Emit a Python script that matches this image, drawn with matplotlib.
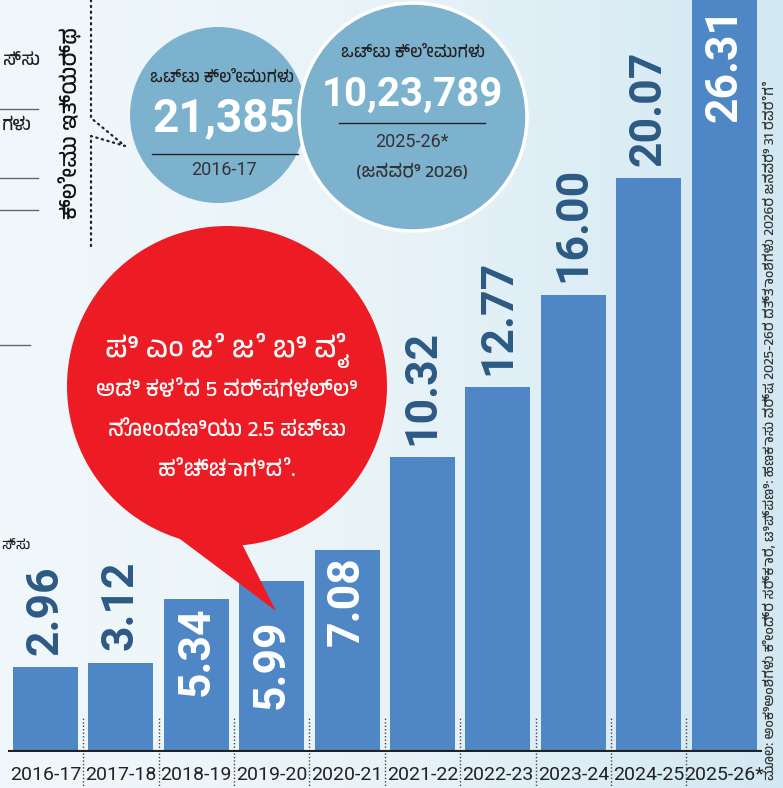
import numpy as np
import matplotlib
matplotlib.use('Agg')
import matplotlib.pyplot as plt
from matplotlib import font_manager
from matplotlib.patches import Circle, Polygon

years = ['2016-17', '2017-18', '2018-19', '2019-20', '2020-21',
         '2021-22', '2022-23', '2023-24', '2024-25', '2025-26*']
claims_lakh = [2.96, 3.12, 5.34, 5.99, 7.08, 10.32, 12.77, 16.00, 20.07, 26.31]
value_labels = ['2.96', '3.12', '5.34', '5.99', '7.08',
                '10.32', '12.77', '16.00', '20.07', '26.31']
# labels written inside the bar (white) rather than above it
inside_idx = [2, 3, 4, 9]

claims_label = 'ಒಟ್ಟು ಕ್ಲೇಮುಗಳು'
first_total, first_year = '21,385', '2016-17'
last_total, last_year, last_note = '10,23,789', '2025-26*', '(ಜನವರಿ 2026)'
side_title = 'ಕ್ಲೇಮು ಇತ್ಯರ್ಥ'
bubble_lines = ['ಪಿ ಎಂ ಜೆ ಜೆ ಬಿ ವೈ', 'ಅಡಿ ಕಳೆದ 5 ವರ್ಷಗಳಲ್ಲಿ',
                'ನೋಂದಣಿಯು 2.5 ಪಟ್ಟು', 'ಹೆಚ್ಚಾಗಿದೆ.']
source_note = ('ಮೂಲ: ಅಂಕಿಅಂಶಗಳು ಕೇಂದ್ರ ಸರ್ಕಾರ, ಟಿಪ್ಪಣಿ: ಹಣಕಾಸು ವರ್ಷ '
               '2025-26ರ ದತ್ತಾಂಶಗಳು 2026ರ ಜನವರಿ 31 ರವರೆಗೆ')


def pick(names, default='DejaVu Sans'):
    for n in names:
        try:
            font_manager.findfont(n, fallback_to_default=False)
            return n
        except Exception:
            pass
    return default


kn = [f.name for f in font_manager.fontManager.ttflist if 'Kannada' in f.name]
base = pick(['Roboto', 'Noto Sans'])
kfont = [kn[0], base] if kn else [base, 'DejaVu Sans']

BAR = '#4f87c6'
DARK = '#2c5a84'
RED = '#ed1c24'
CIRC = '#7db2cf'

W, H = 783, 788
fig = plt.figure(figsize=(W / 100, H / 100), dpi=100)

# background gradient
bg = fig.add_axes([0, 0, 1, 1], zorder=0)
grad = np.tile(np.linspace(0, 1, 200), (50, 1))
cmap = matplotlib.colors.LinearSegmentedColormap.from_list('bg', ['#f1f8fb', '#e8f3f8', '#d2e8f2'])
bg.imshow(grad, extent=[0, 1, 0, 1], aspect='auto', cmap=cmap)
bg.axis('off')

# bars
ax = fig.add_axes([7.8 / W, 36 / H, 754 / W, 752 / H], zorder=1)
ax.patch.set_alpha(0)
x = np.arange(len(years))
ax.bar(x, claims_lakh, width=0.86, color=BAR, zorder=2)
ax.set_xlim(-0.5, len(years) - 0.5)
ax.set_ylim(0, 26.31)
for s in ax.spines.values():
    s.set_visible(False)
ax.set_yticks([])
ax.set_xticks(x)
ax.set_xticklabels(years, fontsize=14, color='#222222', family=base)
ax.tick_params(axis='x', length=0, pad=10)
ax.axhline(0, color='#222222', lw=3, zorder=3)
ax.vlines(x[:-1] + 0.5, -1.3, 1.22, colors='#444444', linestyles=(0, (1, 1.5)), lw=1,
          clip_on=False, zorder=1)

for i, (v, lab) in enumerate(zip(claims_lakh, value_labels)):
    if i in inside_idx:
        off = -28 if lab == '5.99' else -5
        ax.annotate(lab, (i, v), xytext=(0, off), textcoords='offset points', rotation=90,
                    ha='center', va='top', fontsize=32, fontweight='bold', color='white',
                    family=base, zorder=4)
    else:
        ax.annotate(lab, (i, v), xytext=(0, 9), textcoords='offset points', rotation=90,
                    ha='center', va='bottom', fontsize=32, fontweight='bold', color=DARK,
                    family=base, zorder=4)

# overlay in pixel coordinates
ov = fig.add_axes([0, 0, 1, 1], zorder=3)
ov.set_xlim(0, W)
ov.set_ylim(H, 0)
ov.axis('off')

# speech bubble
ov.add_patch(Polygon([(168, 530), (276, 611), (240, 540)], closed=True, color=RED, lw=0))
ov.add_patch(Circle((227, 386), 160, color=RED, lw=0))
for txt, yy, fs in zip(bubble_lines, [350, 390, 430, 471], [21, 16, 16, 16]):
    ov.text(227, yy, txt, ha='center', va='center', fontsize=fs, fontweight='bold',
            color='white', family=kfont)

# total claims circles
ov.add_patch(Circle((218, 115), 88, color=CIRC, lw=0))
ov.add_patch(Circle((413, 117), 114, facecolor=CIRC, edgecolor='white', lw=2.5))

ov.text(222, 78, claims_label, ha='center', va='center', fontsize=12, color='#222222', family=kfont)
ov.text(224, 118, first_total, ha='center', va='center', fontsize=33, fontweight='bold',
        color='white', family=base)
ov.plot([152, 298], [154, 154], color='#222222', lw=1)
ov.text(224, 170, first_year, ha='center', va='center', fontsize=13, color='#333333', family=base)

ov.text(413, 53, claims_label, ha='center', va='center', fontsize=12, color='#222222', family=kfont)
ov.text(412, 95, last_total, ha='center', va='center', fontsize=29, fontweight='bold',
        color='white', family=base)
ov.plot([339, 485], [123, 123], color='#222222', lw=1)
ov.text(412, 142, last_year, ha='center', va='center', fontsize=13, color='#333333', family=base)
ov.text(412, 172, last_note, ha='center', va='center', fontsize=13, color='#333333', family=kfont)

# side title and dotted pointer
ov.text(70, 123, side_title, rotation=90, ha='center', va='center', fontsize=16,
        fontweight='bold', color='#111111', family=kfont)
ov.plot([91, 91, 125, 91, 91], [0, 118, 146, 136, 247], color='#222222', lw=1.6,
        linestyle=(0, (0.6, 2)), dash_capstyle='round')

# fragments of the neighbouring panel
for yy in [109, 178, 210]:
    ov.plot([0, 38], [yy, yy], color='#666666', lw=1)
ov.plot([0, 30], [345, 345], color='#666666', lw=1)
ov.text(2, 60, 'ಸ್ಸು', ha='left', va='center', fontsize=13, color='#222222', family=kfont)
ov.text(2, 125, 'ಗಳು', ha='left', va='center', fontsize=13, color='#222222', family=kfont)
ov.text(1, 545, 'ಸ್ಸು', ha='left', va='center', fontsize=10, color='#222222', family=kfont)

# source note on the right edge
ov.text(770, 780, source_note, rotation=90, ha='center', va='bottom', fontsize=10,
        style='italic', color='#333333', family=kfont, clip_on=True)

fig.savefig('out.png', dpi=100)
